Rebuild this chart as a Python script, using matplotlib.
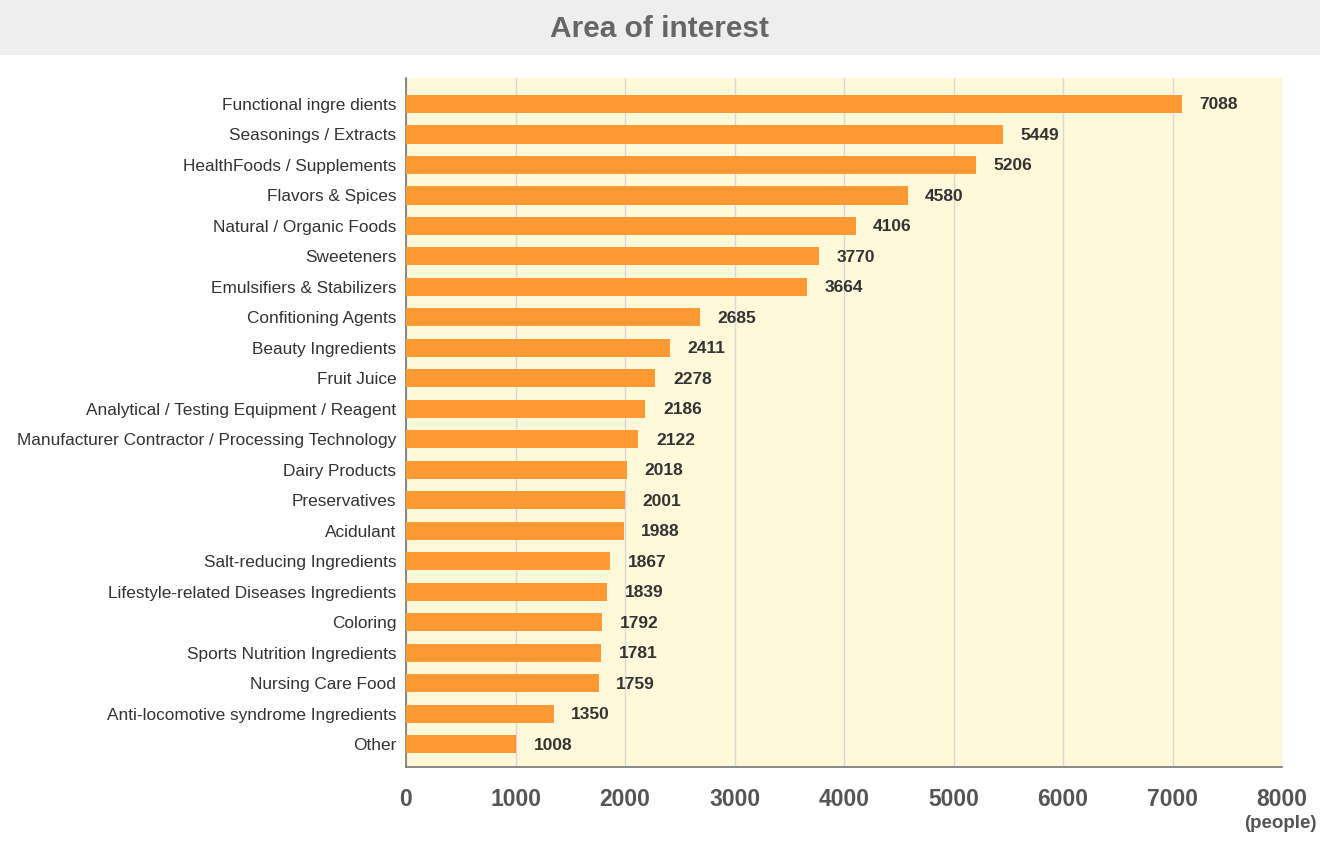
import matplotlib.pyplot as plt
from matplotlib.patches import Rectangle

plt.rcParams['font.family'] = ['Liberation Sans', 'DejaVu Sans']

categories = [
    'Functional ingre dients', 'Seasonings / Extracts', 'HealthFoods / Supplements',
    'Flavors & Spices', 'Natural / Organic Foods', 'Sweeteners',
    'Emulsifiers & Stabilizers', 'Confitioning Agents', 'Beauty Ingredients',
    'Fruit Juice', 'Analytical / Testing Equipment / Reagent',
    'Manufacturer Contractor / Processing Technology', 'Dairy Products',
    'Preservatives', 'Acidulant', 'Salt-reducing Ingredients',
    'Lifestyle-related Diseases Ingredients', 'Coloring',
    'Sports Nutrition Ingredients', 'Nursing Care Food',
    'Anti-locomotive syndrome Ingredients', 'Other',
]
values = [7088, 5449, 5206, 4580, 4106, 3770, 3664, 2685, 2411, 2278, 2186,
          2122, 2018, 2001, 1988, 1867, 1839, 1792, 1781, 1759, 1350, 1008]
xticks = [0, 1000, 2000, 3000, 4000, 5000, 6000, 7000, 8000]

fig = plt.figure(figsize=(13.2, 8.5), dpi=100)

# title band
fig.patches.append(Rectangle((0, 1 - 55 / 850), 1, 55 / 850, transform=fig.transFigure,
                             facecolor='#eeeeee', edgecolor='none', zorder=0))
fig.text(0.5, 1 - 29 / 850, 'Area of interest', ha='center', va='center',
         fontsize=21.5, fontweight='bold', color='#666666')

ax = fig.add_axes([406 / 1320, 1 - 767 / 850, 876 / 1320, 689 / 850])
ax.set_facecolor('#fff8d9')

y = list(range(len(categories)))
ax.barh(y, values, height=0.6, color='#ff9933', zorder=3)
for yi, v in zip(y, values):
    ax.text(v + 160, yi + 0.03, str(v), va='center', ha='left', fontsize=12.5,
            fontweight='bold', color='#333333', zorder=4)

ax.set_ylim(len(categories) - 0.25, -0.85)
ax.set_xlim(0, 8000)
ax.set_yticks(y)
ax.set_yticklabels(categories, fontsize=12.4, color='#333333')
ax.set_xticks(xticks)
ax.set_xticklabels([str(t) for t in xticks], fontsize=16.5, fontweight='bold',
                   color='#555555')
ax.tick_params(axis='y', length=0, pad=7)
ax.tick_params(axis='x', length=0, pad=15)
ax.grid(axis='x', color='#d8d8d8', linewidth=1, zorder=1)

for s in ['top', 'right']:
    ax.spines[s].set_visible(False)
for s in ['left', 'bottom']:
    ax.spines[s].set_color('#777777')
    ax.spines[s].set_linewidth(1.2)

fig.text(1 - 3 / 1320, 1 - 824 / 850, '(people)', ha='right', va='center',
         fontsize=13.5, fontweight='bold', color='#555555')

fig.savefig('out.png', dpi=100)
